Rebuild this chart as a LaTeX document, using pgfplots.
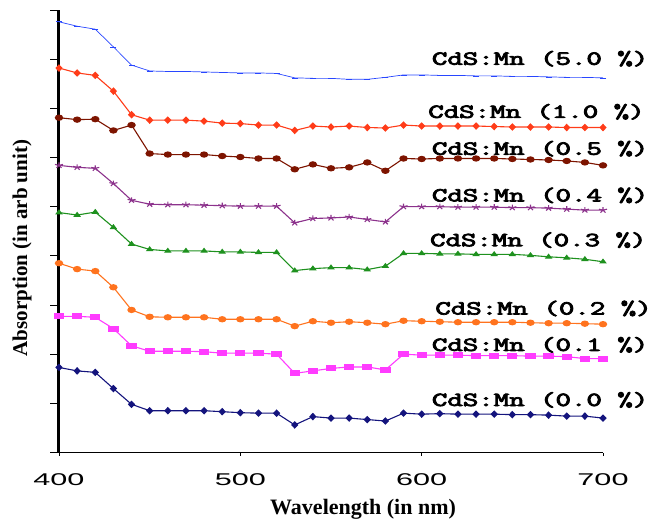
\documentclass[border=0pt]{standalone}
\usepackage{fontspec}
\setmainfont{Liberation Serif}
\newfontfamily\tickfont{Liberation Sans}
\newfontfamily\labfont[AutoFakeBold=3.5]{Latin Modern Mono}
\usepackage{pgfplots}
\usepackage{pgfplotstable}
\pgfplotsset{compat=1.18}

\definecolor{cA}{RGB}{40,70,255}
\definecolor{cB}{RGB}{255,60,25}
\definecolor{cC}{RGB}{125,20,0}
\definecolor{cD}{RGB}{140,50,140}
\definecolor{cE}{RGB}{30,145,30}
\definecolor{cF}{RGB}{255,115,30}
\definecolor{cG}{RGB}{255,60,255}
\definecolor{cH}{RGB}{20,20,125}

\pgfplotstableread{
wl  s50  s10  s05  s04  s03  s02  s01  s00
400 8.76 7.82 6.81 5.84 4.88 3.85 2.77 1.73
410 8.67 7.72 6.77 5.80 4.83 3.73 2.77 1.66
420 8.61 7.67 6.78 5.78 4.89 3.69 2.75 1.63
430 8.25 7.35 6.55 5.47 4.58 3.36 2.52 1.30
440 7.88 6.87 6.66 5.13 4.24 2.90 2.17 0.98
450 7.76 6.76 6.08 5.05 4.13 2.76 2.06 0.85
460 7.75 6.76 6.06 5.04 4.10 2.75 2.06 0.85
470 7.75 6.76 6.06 5.04 4.10 2.75 2.06 0.85
480 7.74 6.74 6.06 5.03 4.10 2.75 2.05 0.85
490 7.73 6.70 6.03 5.02 4.08 2.71 2.02 0.83
500 7.72 6.69 6.01 5.01 4.08 2.71 2.02 0.81
510 7.72 6.66 5.98 5.01 4.07 2.71 2.02 0.80
520 7.71 6.66 5.98 5.01 4.07 2.71 2.00 0.80
530 7.62 6.55 5.76 4.67 3.70 2.57 1.61 0.56
540 7.61 6.64 5.86 4.76 3.74 2.67 1.66 0.73
550 7.61 6.62 5.78 4.77 3.76 2.64 1.71 0.70
560 7.59 6.64 5.80 4.79 3.76 2.66 1.74 0.70
570 7.59 6.61 5.90 4.74 3.72 2.64 1.74 0.67
580 7.63 6.60 5.73 4.69 3.79 2.61 1.68 0.64
590 7.68 6.66 5.98 5.00 4.05 2.68 2.00 0.80
600 7.68 6.64 5.97 5.00 4.05 2.67 1.98 0.78
610 7.67 6.64 5.98 5.00 4.04 2.66 1.98 0.79
620 7.67 6.64 5.98 4.99 4.04 2.65 1.98 0.78
630 7.66 6.64 5.98 4.99 4.03 2.65 1.97 0.78
640 7.66 6.63 5.98 4.99 4.03 2.65 1.97 0.78
650 7.65 6.62 5.97 4.98 4.03 2.65 1.97 0.77
660 7.65 6.62 5.96 4.98 4.01 2.64 1.96 0.77
670 7.64 6.62 5.95 4.97 3.98 2.63 1.96 0.76
680 7.63 6.61 5.93 4.95 3.96 2.63 1.95 0.74
690 7.63 6.61 5.90 4.93 3.93 2.62 1.91 0.74
700 7.62 6.61 5.84 4.93 3.88 2.61 1.91 0.70
}\datatable

\newcommand{\lab}[1]{\labfont\bfseries CdS:Mn (#1 \%)}

\begin{document}
\begin{tikzpicture}
\useasboundingbox (-59pt,-67.5pt) rectangle (594pt,452.5pt);
\begin{axis}[
  at={(0,0)}, anchor=south west,
  scale only axis, width=544pt, height=442.5pt,
  xmin=400, xmax=700, ymin=0, ymax=9,
  axis x line=bottom, axis y line=left,
  axis line style={-},
  x axis line style={line width=0.8pt},
  y axis line style={line width=3pt},
  tick align=outside,
  major tick length=3pt,
  xtick={400,500,600,700},
  xticklabels={400,500,600,700},
  xticklabel style={font=\tickfont\fontsize{17}{17}\selectfont, xscale=1.8, yshift=-15pt},
  ytick=\empty,
  extra y ticks={0,1,2,3,4,5,6,7,8,9},
  extra y tick labels={},
  extra y tick style={major tick length=8.5pt, tick style={line width=0.8pt}},
  tick style={line width=0.8pt, black},
  xlabel={Wavelength (in nm)},
  xlabel style={font=\bfseries\fontsize{22}{22}\selectfont, at={(axis description cs:0.559,-0.128)}, anchor=center},
  ylabel={Absorption (in arb unit)},
  ylabel style={font=\bfseries\fontsize{21}{21}\selectfont, at={(axis description cs:-0.068,0.462)}, anchor=center},
  clip=false,
  every axis plot/.append style={line width=1.1pt},
]
\addplot[cA, line width=0.7pt, mark=-, mark size=3pt] table[x=wl, y=s50] {\datatable};
\addplot[cB, mark=diamond*, mark size=3pt, mark options={xscale=1.3}] table[x=wl, y=s10] {\datatable};
\addplot[cC, mark=*, mark size=2.6pt, mark options={xscale=1.4}] table[x=wl, y=s05] {\datatable};
\addplot[cD, mark=star, mark size=3pt, mark options={xscale=1.4}] table[x=wl, y=s04] {\datatable};
\addplot[cE, mark=triangle*, mark size=2.4pt, mark options={xscale=1.3}] table[x=wl, y=s03] {\datatable};
\addplot[cF, mark=*, mark size=2.6pt, mark options={xscale=1.4}] table[x=wl, y=s02] {\datatable};
\addplot[cG, mark=square*, mark size=2.4pt, mark options={xscale=1.9}] table[x=wl, y=s01] {\datatable};
\addplot[cH, mark=diamond*, mark size=3pt, mark options={xscale=1.3}] table[x=wl, y=s00] {\datatable};

\begin{scope}[every node/.style={anchor=west, inner sep=0pt, xscale=1.5, font=\fontsize{20}{20}\selectfont}]
\node at (axis cs:605.5,8.01) {\lab{5.0}};
\node at (axis cs:603.5,6.93) {\lab{1.0}};
\node at (axis cs:605.5,6.18) {\lab{0.5}};
\node at (axis cs:605.5,5.23) {\lab{0.4}};
\node at (axis cs:604.5,4.32) {\lab{0.3}};
\node at (axis cs:607.4,2.93) {\lab{0.2}};
\node at (axis cs:605.5,2.19) {\lab{0.1}};
\node at (axis cs:605.5,1.07) {\lab{0.0}};
\end{scope}
\end{axis}
\end{tikzpicture}
\end{document}
